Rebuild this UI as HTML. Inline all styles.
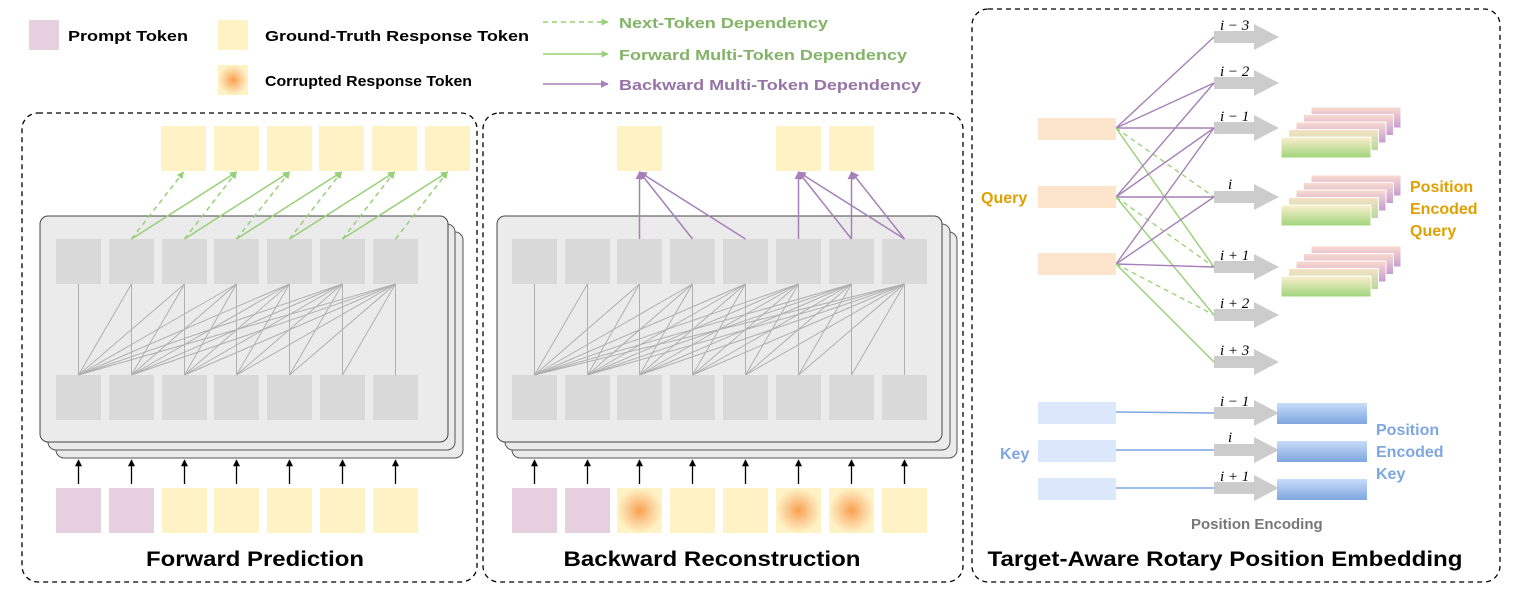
<!DOCTYPE html>
<html><head><meta charset="utf-8"><style>
html,body{margin:0;padding:0;background:#fff;}
svg{display:block;font-family:"Liberation Sans",sans-serif;}
</style></head><body>
<svg id="s" width="1522" height="592" viewBox="0 0 1522 592" xmlns="http://www.w3.org/2000/svg">
<defs>
<radialGradient id="cor" cx="50%" cy="50%" r="50%"><stop offset="0" stop-color="#f9a050"/><stop offset="0.55" stop-color="#fccf97"/><stop offset="1" stop-color="#fff2c5"/></radialGradient>
<linearGradient id="gq" x1="0" y1="0" x2="0" y2="1"><stop offset="0" stop-color="#fcf0cf"/><stop offset="1" stop-color="#9fd47a"/></linearGradient>
<linearGradient id="gq2" x1="0" y1="0" x2="0" y2="1"><stop offset="0" stop-color="#f6e2c6"/><stop offset="1" stop-color="#b7d89a"/></linearGradient>
<linearGradient id="gp" x1="0" y1="0" x2="0" y2="1"><stop offset="0" stop-color="#fadbce"/><stop offset="1" stop-color="#c59bd2"/></linearGradient>
<linearGradient id="gk" x1="0" y1="0" x2="0" y2="1"><stop offset="0" stop-color="#c7dcf8"/><stop offset="1" stop-color="#7ea6e0"/></linearGradient>
<marker id="mg" viewBox="0 0 10 10" refX="9" refY="5" markerWidth="7" markerHeight="7" orient="auto-start-reverse" markerUnits="userSpaceOnUse"><path d="M0,0L10,5L0,10z" fill="#97d077"/></marker>
<marker id="mp" viewBox="0 0 10 10" refX="9" refY="5" markerWidth="8" markerHeight="8" orient="auto" markerUnits="userSpaceOnUse"><path d="M0,0L10,5L0,10z" fill="#a680b8"/></marker>
<marker id="mk" viewBox="0 0 10 10" refX="9" refY="5" markerWidth="7" markerHeight="7" orient="auto" markerUnits="userSpaceOnUse"><path d="M0,0L10,5L0,10z" fill="#000"/></marker>
</defs>

<!-- legend -->
<rect x="29" y="20" width="30" height="30" fill="#e6d0df"/>
<text x="68" y="41" font-size="15" font-weight="bold" textLength="120" lengthAdjust="spacingAndGlyphs">Prompt Token</text>
<rect x="218" y="20" width="30" height="30" fill="#fff2c5"/>
<text x="265" y="41" font-size="15" font-weight="bold" textLength="264" lengthAdjust="spacingAndGlyphs">Ground-Truth Response Token</text>
<rect x="218" y="65" width="30" height="30" fill="url(#cor)"/>
<text x="265" y="86" font-size="15" font-weight="bold" textLength="207" lengthAdjust="spacingAndGlyphs">Corrupted Response Token</text>
<line x1="543" y1="22" x2="608" y2="22" stroke="#97d077" stroke-width="1.5" stroke-dasharray="5,4" marker-end="url(#mg)"/>
<text x="619" y="28" font-size="15" font-weight="bold" fill="#82b366" textLength="209" lengthAdjust="spacingAndGlyphs">Next-Token Dependency</text>
<line x1="543" y1="54" x2="608" y2="54" stroke="#97d077" stroke-width="1.5" marker-end="url(#mg)"/>
<text x="619" y="60" font-size="15" font-weight="bold" fill="#82b366" textLength="288" lengthAdjust="spacingAndGlyphs">Forward Multi-Token Dependency</text>
<line x1="543" y1="84" x2="608" y2="84" stroke="#a680b8" stroke-width="1.5" marker-end="url(#mp)"/>
<text x="619" y="90" font-size="15" font-weight="bold" fill="#9673a6" textLength="302" lengthAdjust="spacingAndGlyphs">Backward Multi-Token Dependency</text>

<!-- panels -->
<rect x="22" y="113" width="455" height="469" rx="16" fill="none" stroke="#000" stroke-width="1.3" stroke-dasharray="5,4"/>
<rect x="483" y="113" width="480" height="469" rx="16" fill="none" stroke="#000" stroke-width="1.3" stroke-dasharray="5,4"/>
<rect x="972" y="9" width="528" height="573" rx="16" fill="none" stroke="#000" stroke-width="1.3" stroke-dasharray="5,4"/>

<!-- left cards -->
<rect x="56" y="232" width="407" height="226" rx="8" fill="#ebebeb" stroke="#555" stroke-width="1"/>
<rect x="48" y="224" width="407" height="226" rx="8" fill="#ebebeb" stroke="#555" stroke-width="1"/>
<rect x="40" y="216" width="408" height="226" rx="8" fill="#ebebeb" stroke="#444" stroke-width="1"/>
<!-- middle cards -->
<rect x="512" y="232" width="445" height="226" rx="8" fill="#ebebeb" stroke="#555" stroke-width="1"/>
<rect x="505" y="224" width="445" height="226" rx="8" fill="#ebebeb" stroke="#555" stroke-width="1"/>
<rect x="497" y="216" width="445" height="226" rx="8" fill="#ebebeb" stroke="#444" stroke-width="1"/>

<g id="dyn"></g>

<text x="255" y="566" font-size="21" font-weight="bold" text-anchor="middle" textLength="218" lengthAdjust="spacingAndGlyphs">Forward Prediction</text>
<text x="712" y="566" font-size="21" font-weight="bold" text-anchor="middle" textLength="297" lengthAdjust="spacingAndGlyphs">Backward Reconstruction</text>
<text x="1225" y="566" font-size="21" font-weight="bold" text-anchor="middle" textLength="475" lengthAdjust="spacingAndGlyphs">Target-Aware Rotary Position Embedding</text>

<!-- right panel static -->
<rect x="1038" y="118" width="78" height="22" fill="#fde5cc"/>
<rect x="1038" y="186" width="78" height="22" fill="#fde5cc"/>
<rect x="1038" y="253" width="78" height="22" fill="#fde5cc"/>
<text x="981" y="203" font-size="16" font-weight="bold" fill="#e0a000">Query</text>
<text x="1410" y="192" font-size="16" font-weight="bold" fill="#e0a000">Position</text>
<text x="1410" y="214" font-size="16" font-weight="bold" fill="#e0a000">Encoded</text>
<text x="1410" y="236" font-size="16" font-weight="bold" fill="#e0a000">Query</text>

<rect x="1038" y="402" width="78" height="22" fill="#dbe8fb"/>
<rect x="1038" y="440" width="78" height="22" fill="#dbe8fb"/>
<rect x="1038" y="478" width="78" height="22" fill="#dbe8fb"/>
<line x1="1116" y1="412" x2="1214" y2="413" stroke="#7ea6e0" stroke-width="1.5"/>
<line x1="1116" y1="450" x2="1214" y2="450" stroke="#7ea6e0" stroke-width="1.5"/>
<line x1="1116" y1="488" x2="1214" y2="488" stroke="#7ea6e0" stroke-width="1.5"/>
<rect x="1277" y="403" width="90" height="21" fill="url(#gk)"/>
<rect x="1277" y="441" width="90" height="21" fill="url(#gk)"/>
<rect x="1277" y="479" width="90" height="21" fill="url(#gk)"/>
<text x="1000" y="459" font-size="16" font-weight="bold" fill="#7ea6e0">Key</text>
<text x="1376" y="435" font-size="16" font-weight="bold" fill="#7ea6e0">Position</text>
<text x="1376" y="457" font-size="16" font-weight="bold" fill="#7ea6e0">Encoded</text>
<text x="1376" y="479" font-size="16" font-weight="bold" fill="#7ea6e0">Key</text>
<text x="1191" y="529" font-size="15" font-weight="bold" fill="#777">Position Encoding</text>

<g font-family="'Liberation Serif',serif" font-size="15" font-style="italic">
<text x="1220" y="30">i − 3</text>
<text x="1220" y="76">i − 2</text>
<text x="1220" y="121">i − 1</text>
<text x="1228" y="189">i</text>
<text x="1220" y="260">i + 1</text>
<text x="1220" y="308">i + 2</text>
<text x="1220" y="355">i + 3</text>
<text x="1220" y="406">i − 1</text>
<text x="1228" y="442">i</text>
<text x="1220" y="481">i + 1</text>
</g>
</svg>
<script>
(function(){
var NS="http://www.w3.org/2000/svg",g=document.getElementById('dyn');
function el(t,a){var e=document.createElementNS(NS,t);for(var k in a)e.setAttribute(k,a[k]);g.appendChild(e);return e;}
function line(x1,y1,x2,y2,st,w,extra){var a={x1:x1,y1:y1,x2:x2,y2:y2,stroke:st,'stroke-width':w};for(var k in extra)a[k]=extra[k];return el('line',a);}
// left
var L=[56,109,162,214,267,320,373];
L.forEach(function(x){el('rect',{x:x,y:239,width:45,height:45,fill:'#d9d9d9'});el('rect',{x:x,y:375,width:45,height:45,fill:'#d9d9d9'});});
for(var j=0;j<7;j++)for(var i=0;i<=j;i++)line(L[j]+22.5,284,L[i]+22.5,375,'#b0b0b0',1);
var O=[161,214,267,319,372,425];
O.forEach(function(x){el('rect',{x:x,y:126,width:45,height:45,fill:'#fff2c5'});});
for(var j=1;j<7;j++){line(L[j]+22.5,239,O[j-1]+22.5,172,'#97d077',1.5,{'stroke-dasharray':'5,4','marker-end':'url(#mg)'});
 if(j<6)line(L[j]+22.5,239,O[j]+22.5,172,'#97d077',1.5,{'marker-end':'url(#mg)'});}
var inL=['#e6d0df','#e6d0df','#fff2c5','#fff2c5','#fff2c5','#fff2c5','#fff2c5'];
L.forEach(function(x,k){el('rect',{x:x,y:488,width:45,height:45,fill:inL[k]});line(x+22.5,484,x+22.5,460,'#000',1.3,{'marker-end':'url(#mk)'});});
// middle
var M=[512,565,617,670,723,776,829,882];
M.forEach(function(x){el('rect',{x:x,y:239,width:45,height:45,fill:'#d9d9d9'});el('rect',{x:x,y:375,width:45,height:45,fill:'#d9d9d9'});});
for(var j=0;j<8;j++)for(var i=0;i<=j;i++)line(M[j]+22.5,284,M[i]+22.5,375,'#b0b0b0',1);
[617,776,829].forEach(function(x){el('rect',{x:x,y:126,width:45,height:45,fill:'#fff2c5'});});
[[2,[2,3,4]],[5,[5,6,7]],[6,[6,7]]].forEach(function(p){var tx=M[p[0]]+22.5;p[1].forEach(function(s){line(M[s]+22.5,239,tx,172,'#a680b8',1.5,{'marker-end':'url(#mp)'});});});
var inM=['#e6d0df','#e6d0df','url(#cor)','#fff2c5','#fff2c5','url(#cor)','url(#cor)','#fff2c5'];
M.forEach(function(x,k){el('rect',{x:x,y:488,width:45,height:45,fill:inM[k]});line(x+22.5,484,x+22.5,460,'#000',1.3,{'marker-end':'url(#mk)'});});
// right arrows
var AY=[37,83,128,197,267,315,362,413,450,488];
AY.forEach(function(y){el('polygon',{points:[1214,y-6,1254,y-6,1254,y-13,1279,y,1254,y+13,1254,y+6,1214,y+6].join(' '),fill:'#cccccc'});});
var QY=[128,197,264],P='#a680b8',G='#97d077';
for(var q=0;q<3;q++){var y=QY[q];
 for(var k=0;k<3;k++)line(1116,y,1214,AY[q+k],P,1.4);
 line(1116,y,1214,AY[q+3],G,1.3,{'stroke-dasharray':'5,4'});
 line(1116,y,1214,AY[q+4],G,1.4);}
// stacks
[137,205,276].forEach(function(top){
 for(var i=4;i>=0;i--){var f=i==0?'url(#gq)':(i==1?'url(#gq2)':'url(#gp)');
  el('rect',{x:1281+7.5*i,y:top-7.5*i,width:90,height:21,fill:f,stroke:'#fff','stroke-width':1});}
});
})();
</script>
</body></html>
